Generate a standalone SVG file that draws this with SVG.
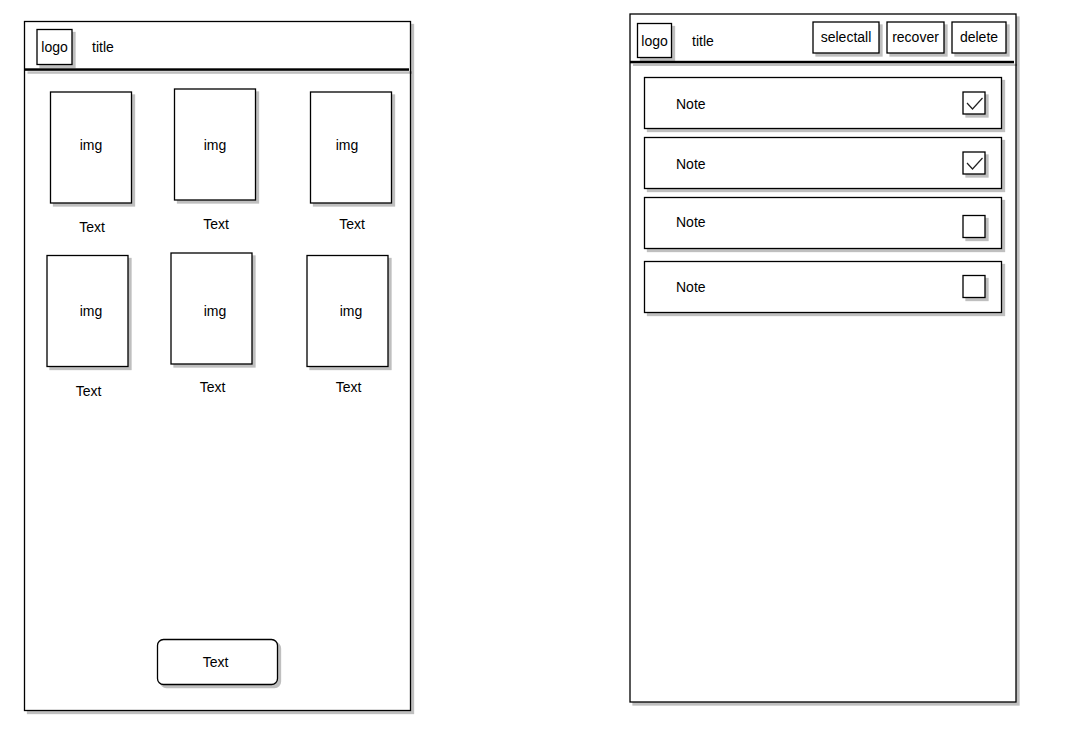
<svg xmlns="http://www.w3.org/2000/svg" width="1075" height="737" viewBox="0 0 1075 737">
<defs>
<filter id="sh" x="-10%" y="-10%" width="130%" height="200%">
<feDropShadow dx="3" dy="3" stdDeviation="0.6" flood-color="#000" flood-opacity="0.25"/>
</filter>
<style>
.b{fill:#fff;stroke:#000;stroke-width:1.3;filter:url(#sh)}
.ln{fill:#000;stroke:none;filter:url(#sh)}
.t{font-family:"Liberation Sans",Arial,sans-serif;font-size:14px;fill:#000;text-anchor:middle;dominant-baseline:central}
.tl{font-family:"Liberation Sans",Arial,sans-serif;font-size:14px;fill:#000;dominant-baseline:central}
.ck{fill:none;stroke:#222;stroke-width:1.2}
</style>
</defs>
<rect width="1075" height="737" fill="#fff"/>
<g id="left-screen">
<rect class="b" x="24.5" y="21.5" width="386" height="689"/>
<rect class="ln" x="24.5" y="68.3" width="384.5" height="2.5"/>
<g id="l-logo"><rect class="b" x="37" y="29.5" width="35" height="35"/><text class="t" x="54.5" y="47">logo</text></g>
<text id="l-title" class="tl" x="92" y="47">title</text>
<g id="img1"><rect class="b" x="50.5" y="92" width="81" height="111"/><text class="t" x="91" y="145">img</text></g>
<g id="img2"><rect class="b" x="174.5" y="89" width="81" height="111"/><text class="t" x="215" y="145">img</text></g>
<g id="img3"><rect class="b" x="310.5" y="92" width="81" height="111"/><text class="t" x="347" y="145">img</text></g>
<text class="t" x="92" y="227">Text</text>
<text class="t" x="216" y="224">Text</text>
<text class="t" x="352" y="224">Text</text>
<g id="img4"><rect class="b" x="47" y="255.5" width="81" height="111"/><text class="t" x="91" y="311">img</text></g>
<g id="img5"><rect class="b" x="171" y="253" width="81" height="111"/><text class="t" x="215" y="311">img</text></g>
<g id="img6"><rect class="b" x="307" y="255.5" width="81" height="111"/><text class="t" x="351" y="311">img</text></g>
<text class="t" x="88.5" y="391">Text</text>
<text class="t" x="212.5" y="387">Text</text>
<text class="t" x="348.5" y="387">Text</text>
<g id="l-button"><rect class="b" x="157.5" y="639.5" width="120" height="45" rx="6" ry="6"/><text class="t" x="215.5" y="662">Text</text></g>
</g>
<g id="right-screen">
<rect class="b" x="630" y="14" width="386" height="688"/>
<rect class="ln" x="630" y="60.8" width="384" height="2.5"/>
<g id="r-logo"><rect class="b" x="637.5" y="23.5" width="34" height="34"/><text class="t" x="654.5" y="41">logo</text></g>
<text id="r-title" class="tl" x="692" y="41">title</text>
<g id="selectall"><rect class="b" x="813" y="22" width="66" height="31"/><text class="t" x="846" y="37">selectall</text></g>
<g id="recover"><rect class="b" x="887" y="22" width="57" height="31"/><text class="t" x="915.5" y="37">recover</text></g>
<g id="delete"><rect class="b" x="952" y="22" width="54" height="31"/><text class="t" x="979" y="37">delete</text></g>
<g id="note1"><rect class="b" x="644.5" y="77.5" width="357" height="51"/><text class="tl" x="676" y="104">Note</text>
<rect class="b" x="963" y="92" width="22" height="22"/><polyline class="ck" points="967,103 972.5,109 982.5,98"/></g>
<g id="note2"><rect class="b" x="644.5" y="137.5" width="357" height="51"/><text class="tl" x="676" y="164">Note</text>
<rect class="b" x="963" y="152" width="22" height="22"/><polyline class="ck" points="967,163 972.5,169 982.5,158"/></g>
<g id="note3"><rect class="b" x="644.5" y="197.5" width="357" height="51"/><text class="tl" x="676" y="222">Note</text>
<rect class="b" x="963" y="215.5" width="22" height="22"/></g>
<g id="note4"><rect class="b" x="644.5" y="261.5" width="357" height="51"/><text class="tl" x="676" y="287">Note</text>
<rect class="b" x="963" y="275.5" width="22" height="22"/></g>
</g>
<g id="connectors"/>
</svg>
